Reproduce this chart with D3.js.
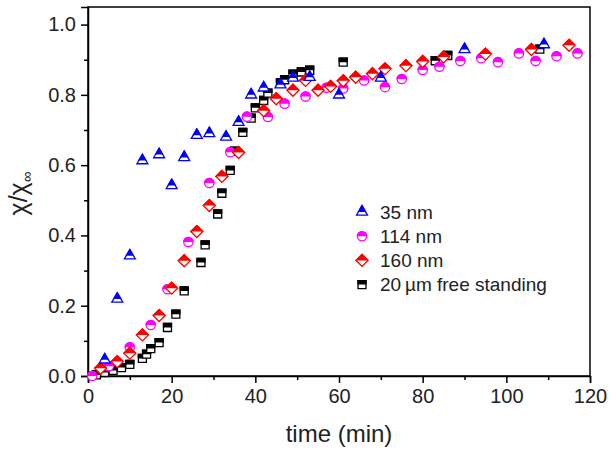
<!DOCTYPE html>
<html lang="en">
<head>
  <meta charset="UTF-8">
  <title>Normalized susceptibility vs time</title>
  <script src="https://d3js.org/d3.v7.min.js"></script>
  <style>
    body {
      margin: 0;
      background: white;
      font-family: 'Liberation Sans', Arial, sans-serif;
    }
    .axis path, .axis line {
      stroke: #000;
      stroke-width: 1.5;
    }
    .axis text {
      font-family: 'Liberation Sans', Arial, sans-serif;
      font-size: 20px;
      fill: #222;
    }
  </style>
</head>
<body>
  <div id="chart"></div>
  <script>
    // 35 nm film
    const x35 = [4, 7, 10, 13, 17, 20, 23, 26, 29, 33, 36, 39, 42, 46, 49, 53, 60, 70, 90, 109];
    const y35 = [0.046, 0.219, 0.342, 0.613, 0.630, 0.542, 0.622, 0.685, 0.690, 0.680, 0.722, 0.800, 0.820, 0.829, 0.848, 0.850, 0.800, 0.848, 0.929, 0.943];

    // 114 nm film
    const x114 = [1, 5, 10, 15, 19, 24, 29, 34, 38, 43, 47, 52, 57, 61, 66, 71, 75, 80, 84, 89, 94, 98, 103, 107, 112, 117];
    const y114 = [0.0, 0.028, 0.082, 0.145, 0.247, 0.381, 0.549, 0.637, 0.738, 0.737, 0.775, 0.795, 0.820, 0.818, 0.841, 0.822, 0.845, 0.871, 0.880, 0.896, 0.904, 0.893, 0.918, 0.896, 0.910, 0.918];

    // 160 nm film
    const x160 = [3, 7, 10, 13, 17, 20, 23, 26, 29, 32, 36, 42, 45, 49, 52, 55, 58, 61, 64, 68, 71, 76, 80, 85, 95, 106, 115];
    const y160 = [0.022, 0.041, 0.065, 0.117, 0.172, 0.250, 0.328, 0.411, 0.485, 0.568, 0.636, 0.755, 0.789, 0.813, 0.841, 0.813, 0.824, 0.840, 0.850, 0.860, 0.874, 0.883, 0.895, 0.908, 0.916, 0.929, 0.941];

    // 20 um free standing
    const xFree = [2, 4, 6, 8, 10, 13, 14, 15, 17, 19, 21, 23, 27, 28, 31, 32, 34, 35, 37, 39, 40, 42, 43, 46, 47, 49, 51, 53, 61, 83, 86, 108];
    const yFree = [0.003, 0.010, 0.016, 0.024, 0.033, 0.050, 0.062, 0.078, 0.095, 0.138, 0.176, 0.242, 0.323, 0.373, 0.461, 0.520, 0.585, 0.640, 0.693, 0.734, 0.763, 0.784, 0.805, 0.834, 0.843, 0.859, 0.865, 0.870, 0.893, 0.897, 0.912, 0.930];

    const xTicks = [0, 20, 40, 60, 80, 100, 120];
    const yTicks = [0.0, 0.2, 0.4, 0.6, 0.8, 1.0];

    const W = 609, H = 451;
    const margin = { top: 7, right: 19, bottom: 75, left: 88 };
    const width = W - margin.left - margin.right,
      height = H - margin.top - margin.bottom;

    const svg = d3.select("#chart").append("svg")
      .attr("width", W)
      .attr("height", H);

    svg.append("defs").append("clipPath")
      .attr("id", "tophalf")
      .append("rect")
      .attr("x", -10).attr("y", -10)
      .attr("width", 20).attr("height", 10);

    const g = svg.append("g")
      .attr("transform", `translate(${margin.left},${margin.top})`);

    const x = d3.scaleLinear().domain([0, 120]).range([0, width]);
    const y = d3.scaleLinear().domain([0, 1.05]).range([height, 0]);

    // frame
    g.append("rect")
      .attr("width", width)
      .attr("height", height)
      .attr("fill", "none")
      .attr("stroke", "#000")
      .attr("stroke-width", 1.5);

    // minor ticks
    g.append("g")
      .attr("class", "axis")
      .attr("transform", `translate(0,${height})`)
      .call(d3.axisBottom(x).tickValues(d3.range(10, 120, 20)).tickSize(4).tickFormat(""))
      .select(".domain").remove();
    g.append("g")
      .attr("class", "axis")
      .call(d3.axisLeft(y).tickValues([0.1, 0.3, 0.5, 0.7, 0.9]).tickSize(4).tickFormat(""))
      .select(".domain").remove();

    g.append("g")
      .attr("class", "axis")
      .attr("transform", `translate(0,${height})`)
      .call(d3.axisBottom(x).tickValues(xTicks).tickSize(7).tickPadding(6).tickFormat(d3.format("d")));

    g.append("g")
      .attr("class", "axis")
      .call(d3.axisLeft(y).tickValues(yTicks).tickSize(7).tickPadding(5).tickFormat(d3.format(".1f")));

    // axis titles
    svg.append("text")
      .attr("x", margin.left + width / 2)
      .attr("y", 442)
      .attr("text-anchor", "middle")
      .style("font-size", "24px")
      .style("fill", "#222")
      .text("time (min)");

    const yl = svg.append("text")
      .attr("transform", `translate(27,${margin.top + height / 2 + 2}) rotate(-90)`)
      .attr("text-anchor", "middle")
      .style("font-size", "25px")
      .style("fill", "#222");
    yl.append("tspan").text("χ/χ");
    yl.append("tspan").attr("dy", 5).style("font-size", "15px").text("∞");

    // marker shapes
    const shapes = {
      triangle: d3.symbol(d3.symbolTriangle, 52)(),
      circle: d3.symbol(d3.symbolCircle, 68)(),
      square: d3.symbol(d3.symbolSquare, 64)(),
      diamond: "M0,-6L6,0L0,6L-6,0Z"
    };

    function drawMarker(sel, shape, color) {
      sel.append("path")
        .attr("d", shapes[shape])
        .attr("fill", "white")
        .attr("stroke", color)
        .attr("stroke-width", 1.3);
      sel.append("path")
        .attr("d", shapes[shape])
        .attr("fill", color)
        .attr("stroke", color)
        .attr("stroke-width", 1.3)
        .attr("clip-path", "url(#tophalf)");
    }

    const series = [
      { name: "20\u2009\u00b5m free standing", xs: xFree, ys: yFree, shape: "square", color: "#000000" },
      { name: "114 nm", xs: x114, ys: y114, shape: "circle", color: "#ff00ff" },
      { name: "160 nm", xs: x160, ys: y160, shape: "diamond", color: "#ff0000" },
      { name: "35 nm", xs: x35, ys: y35, shape: "triangle", color: "#0000ff" }
    ];

    series.forEach(s => {
      const pts = s.xs.map((v, i) => ({ x: v, y: s.ys[i] }));
      g.append("g").selectAll("g")
        .data(pts)
        .enter().append("g")
        .attr("transform", d => `translate(${x(d.x)},${y(d.y)})`)
        .each(function () { drawMarker(d3.select(this), s.shape, s.color); });
    });

    // legend
    const legendOrder = ["35 nm", "114 nm", "160 nm", "20\u2009\u00b5m free standing"];
    const legend = svg.append("g").attr("transform", "translate(362,212)");
    legendOrder.forEach((name, i) => {
      const s = series.find(d => d.name === name);
      const row = legend.append("g").attr("transform", `translate(0,${i * 24.2})`);
      drawMarker(row.append("g"), s.shape, s.color);
      row.append("text")
        .attr("x", 18)
        .attr("y", 6.5)
        .style("font-size", "19px")
        .style("fill", "#222")
        .text(name);
    });
  </script>
</body>
</html>
